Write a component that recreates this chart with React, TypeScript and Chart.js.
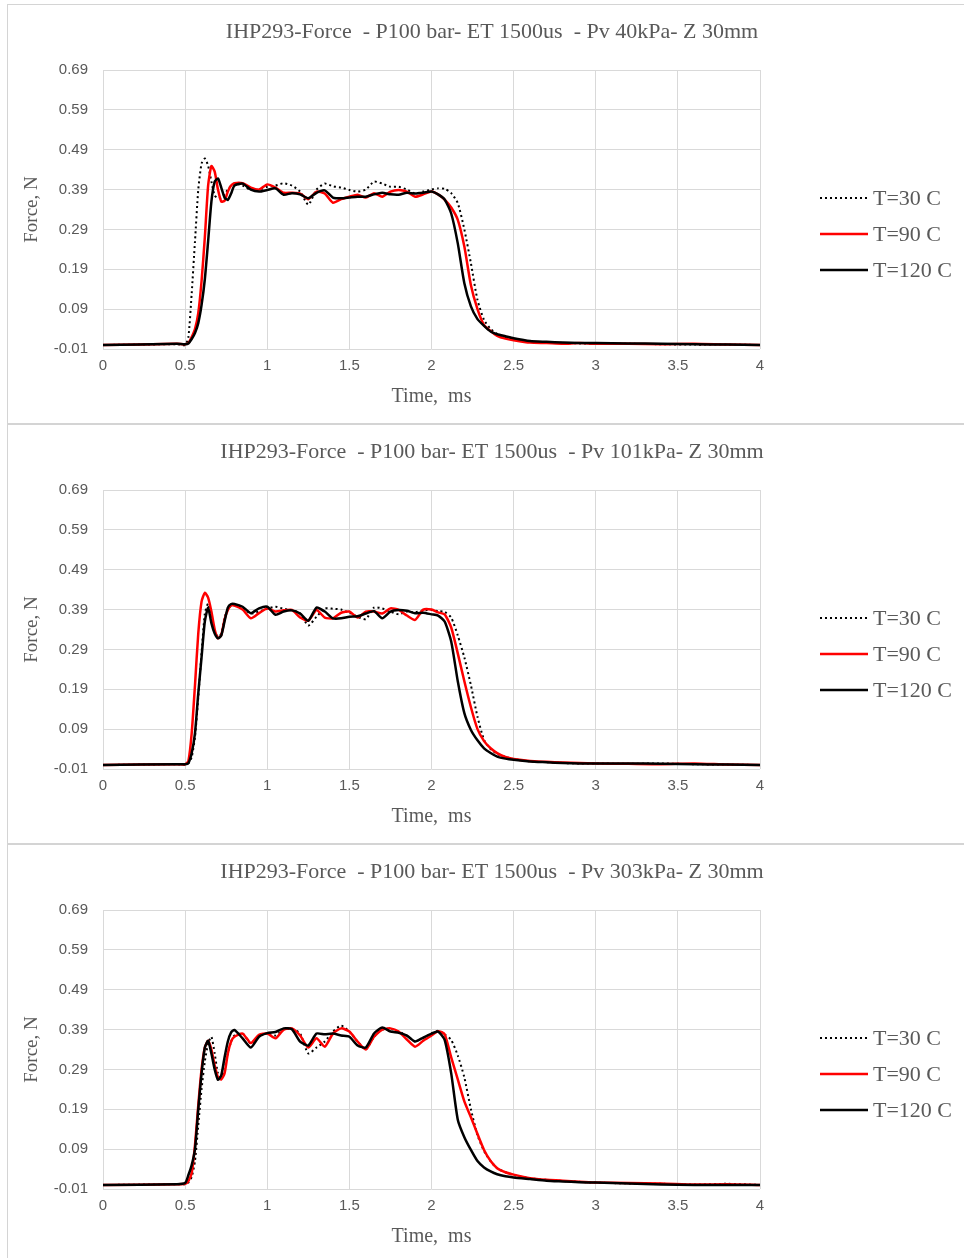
import React, { useEffect, useRef } from 'react';
import { Chart, registerables } from 'chart.js';

Chart.register(...registerables);

// ---------- data ----------
const time = [0, 0.45, 0.5, 0.52, 0.54, 0.56, 0.58, 0.6, 0.62, 0.64, 0.66, 0.68, 0.7, 0.72, 0.74, 0.76, 0.78, 0.8, 0.85, 0.9, 0.95, 1.0, 1.05, 1.1, 1.15, 1.2, 1.25, 1.3, 1.35, 1.4, 1.45, 1.5, 1.55, 1.6, 1.65, 1.7, 1.75, 1.8, 1.85, 1.9, 1.95, 2.0, 2.04, 2.08, 2.12, 2.16, 2.2, 2.24, 2.28, 2.32, 2.36, 2.4, 2.45, 2.5, 2.6, 2.7, 2.8, 2.9, 3.0, 3.2, 3.4, 3.6, 3.8, 4.0];

const seriesLabels = ['T=30 C', 'T=90 C', 'T=120 C'];

const panelTitles = [
  'IHP293-Force  - P100 bar- ET 1500us  - Pv 40kPa- Z 30mm',
  'IHP293-Force  - P100 bar- ET 1500us  - Pv 101kPa- Z 30mm',
  'IHP293-Force  - P100 bar- ET 1500us  - Pv 303kPa- Z 30mm',
];

const xTicks = [0, 0.5, 1, 1.5, 2, 2.5, 3, 3.5, 4];
const yTicks = [-0.01, 0.09, 0.19, 0.29, 0.39, 0.49, 0.59, 0.69];

// Panel 1 (Pv 40kPa)
const p1T30 = [0, 0.002, 0.0, 0.02, 0.13, 0.26, 0.39, 0.455, 0.468, 0.45, 0.41, 0.375, 0.368, 0.37, 0.378, 0.39, 0.4, 0.405,
  0.4, 0.389, 0.39, 0.397, 0.4, 0.406, 0.4, 0.385, 0.352, 0.39, 0.405, 0.398, 0.395, 0.389, 0.385, 0.39, 0.41, 0.405, 0.397, 0.397, 0.39, 0.38, 0.385, 0.39,
  0.393, 0.392, 0.381, 0.356, 0.29, 0.205, 0.113, 0.063, 0.04, 0.028, 0.02, 0.015, 0.008, 0.006, 0.005, 0.004, 0.003, 0.003, 0.002, 0.001, 0.001, 0.0];
const p1T90 = [0, 0.003, 0.002, 0.005, 0.02, 0.04, 0.08, 0.16, 0.27, 0.4, 0.449, 0.435, 0.39, 0.36, 0.362, 0.385, 0.4, 0.406,
  0.406, 0.395, 0.39, 0.403, 0.395, 0.382, 0.382, 0.38, 0.366, 0.385, 0.38, 0.357, 0.366, 0.372, 0.377, 0.37, 0.381, 0.372, 0.385, 0.389, 0.385, 0.372, 0.378, 0.385,
  0.378, 0.365, 0.345, 0.314, 0.247, 0.15, 0.09, 0.05, 0.035, 0.023, 0.016, 0.012, 0.006, 0.005, 0.003, 0.005, 0.003, 0.003, 0.002, 0.003, 0.001, 0.0];
const p1T120 = [0, 0.003, 0.002, 0.004, 0.015, 0.03, 0.055, 0.1, 0.165, 0.26, 0.36, 0.41, 0.418, 0.395, 0.37, 0.364, 0.38, 0.4,
  0.405, 0.39, 0.385, 0.389, 0.393, 0.377, 0.381, 0.378, 0.368, 0.382, 0.388, 0.37, 0.368, 0.37, 0.372, 0.372, 0.378, 0.382, 0.378, 0.377, 0.382, 0.38, 0.382, 0.385,
  0.378, 0.365, 0.33, 0.255, 0.155, 0.097, 0.065, 0.048, 0.034, 0.027, 0.022, 0.017, 0.01, 0.008, 0.006, 0.005, 0.005, 0.004, 0.003, 0.002, 0.001, 0.0];

// Panel 2 (Pv 101kPa)
const p2T30 = [0, 0.002, 0.001, 0.004, 0.02, 0.07, 0.17, 0.28, 0.38, 0.405, 0.37, 0.335, 0.322, 0.33, 0.37, 0.39, 0.4, 0.402,
  0.395, 0.38, 0.385, 0.392, 0.397, 0.392, 0.388, 0.38, 0.35, 0.372, 0.393, 0.392, 0.39, 0.382, 0.372, 0.366, 0.395, 0.393, 0.385, 0.378, 0.385, 0.383, 0.388, 0.389,
  0.386, 0.384, 0.37, 0.325, 0.27, 0.2, 0.121, 0.063, 0.04, 0.028, 0.02, 0.015, 0.009, 0.007, 0.005, 0.004, 0.004, 0.003, 0.004, 0.002, 0.001, 0.0];
const p2T90 = [0, 0.002, 0.002, 0.01, 0.08, 0.2, 0.33, 0.41, 0.432, 0.42, 0.385, 0.34, 0.318, 0.326, 0.365, 0.389, 0.401, 0.4,
  0.39, 0.368, 0.381, 0.393, 0.385, 0.388, 0.389, 0.37, 0.362, 0.389, 0.37, 0.368, 0.382, 0.385, 0.37, 0.385, 0.385, 0.38, 0.393, 0.389, 0.375, 0.364, 0.39, 0.39,
  0.383, 0.378, 0.345, 0.28, 0.21, 0.145, 0.09, 0.06, 0.042, 0.03, 0.02, 0.015, 0.01, 0.008, 0.006, 0.005, 0.004, 0.003, 0.002, 0.004, 0.001, 0.0];
const p2T120 = [0, 0.002, 0.002, 0.005, 0.03, 0.08, 0.18, 0.27, 0.36, 0.395, 0.356, 0.33, 0.318, 0.325, 0.36, 0.395, 0.404, 0.404,
  0.397, 0.381, 0.393, 0.397, 0.377, 0.385, 0.388, 0.38, 0.362, 0.395, 0.385, 0.368, 0.368, 0.372, 0.373, 0.38, 0.386, 0.368, 0.385, 0.389, 0.387, 0.381, 0.382, 0.378,
  0.375, 0.36, 0.31, 0.21, 0.13, 0.088, 0.062, 0.042, 0.03, 0.021, 0.016, 0.013, 0.009, 0.007, 0.005, 0.004, 0.004, 0.004, 0.003, 0.002, 0.001, 0.0];

// Panel 3 (Pv 303kPa)
const p3T30 = [0, 0.002, 0.002, 0.006, 0.02, 0.06, 0.15, 0.24, 0.31, 0.355, 0.372, 0.33, 0.28, 0.27, 0.29, 0.33, 0.36, 0.375,
  0.38, 0.355, 0.375, 0.38, 0.375, 0.39, 0.392, 0.38, 0.33, 0.345, 0.36, 0.385, 0.4, 0.385, 0.36, 0.34, 0.372, 0.39, 0.392, 0.385, 0.375, 0.36, 0.37, 0.38,
  0.387, 0.378, 0.364, 0.325, 0.27, 0.19, 0.125, 0.085, 0.06, 0.042, 0.032, 0.025, 0.017, 0.013, 0.01, 0.008, 0.006, 0.004, 0.003, 0.001, 0.003, 0.0];
const p3T90 = [0, 0.002, 0.003, 0.01, 0.03, 0.1, 0.2, 0.29, 0.345, 0.362, 0.34, 0.3, 0.27, 0.265, 0.28, 0.33, 0.36, 0.372,
  0.38, 0.356, 0.377, 0.38, 0.368, 0.39, 0.393, 0.375, 0.345, 0.368, 0.347, 0.38, 0.393, 0.385, 0.36, 0.34, 0.372, 0.39, 0.393, 0.385, 0.365, 0.347, 0.362, 0.375,
  0.386, 0.378, 0.32, 0.265, 0.21, 0.17, 0.128, 0.088, 0.06, 0.042, 0.032, 0.026, 0.017, 0.013, 0.011, 0.008, 0.006, 0.005, 0.004, 0.001, 0.002, 0.0];
const p3T120 = [0, 0.002, 0.005, 0.025, 0.05, 0.09, 0.19, 0.28, 0.345, 0.362, 0.33, 0.29, 0.264, 0.275, 0.32, 0.36, 0.383, 0.389,
  0.368, 0.345, 0.372, 0.381, 0.384, 0.393, 0.391, 0.36, 0.35, 0.38, 0.378, 0.38, 0.375, 0.372, 0.35, 0.345, 0.38, 0.395, 0.385, 0.382, 0.375, 0.36, 0.37, 0.38,
  0.385, 0.364, 0.28, 0.164, 0.12, 0.088, 0.06, 0.044, 0.034, 0.027, 0.022, 0.019, 0.015, 0.011, 0.009, 0.007, 0.006, 0.004, 0.001, 0.0, 0.0, 0.0];

const panelSeries = [
  [p1T30, p1T90, p1T120],
  [p2T30, p2T90, p2T120],
  [p3T30, p3T90, p3T120],
];

// ---------- styles ----------
const seriesStyles = [
  { color: '#000000', width: 2, dash: [2, 3] },
  { color: '#ff0000', width: 2.5, dash: [] as number[] },
  { color: '#000000', width: 2.5, dash: [] as number[] },
];

const W = 964;
const H = 420;
const TEXT = '#595959';
const GRID = '#d9d9d9';

const overlayPlugin = {
  id: 'overlay',
  afterDraw(chart: any, _args: any, opts: any) {
    const ctx = chart.ctx as CanvasRenderingContext2D;
    ctx.save();
    ctx.fillStyle = TEXT;
    ctx.font = '22px "Liberation Serif"';
    ctx.textAlign = 'center';
    ctx.textBaseline = 'middle';
    ctx.fillText(opts.title, 492, 28);
    // legend
    const ys = [194, 230, 266];
    seriesLabels.forEach((lab, i) => {
      const st = seriesStyles[i];
      ctx.save();
      ctx.strokeStyle = st.color;
      ctx.lineWidth = st.width;
      ctx.setLineDash(st.dash);
      ctx.beginPath();
      ctx.moveTo(820, ys[i]);
      ctx.lineTo(868, ys[i]);
      ctx.stroke();
      ctx.restore();
      ctx.fillStyle = TEXT;
      ctx.font = '22px "Liberation Serif"';
      ctx.textAlign = 'left';
      ctx.textBaseline = 'middle';
      ctx.fillText(lab, 873, ys[i] + 1);
    });
    ctx.restore();
  },
};

function Panel({ index }: { index: number }) {
  const ref = useRef<HTMLCanvasElement>(null);
  useEffect(() => {
    const canvas = ref.current;
    if (!canvas) return;
    const values = panelSeries[index];
    const chart = new Chart(canvas, {
      type: 'line',
      data: {
        datasets: values.map((vals, i) => ({
          label: seriesLabels[i],
          data: time.map((t, k) => ({ x: t, y: vals[k] })),
          borderColor: seriesStyles[i].color,
          borderWidth: seriesStyles[i].width,
          borderDash: seriesStyles[i].dash,
          pointRadius: 0,
          tension: 0.2,
          fill: false,
          order: 3 - i,
        })),
      },
      options: {
        responsive: false,
        animation: false,
        events: [],
        layout: { padding: { top: 66, right: W - 760, left: 0, bottom: 0 } },
        plugins: {
          legend: { display: false },
          title: { display: false },
          tooltip: { enabled: false },
          overlay: { title: panelTitles[index] },
        } as any,
        scales: {
          x: {
            type: 'linear',
            min: 0,
            max: 4,
            afterFit: (s: any) => { s.height = H - 345; },
            afterBuildTicks: (s: any) => { s.ticks = xTicks.map((v) => ({ value: v })); },
            grid: { color: GRID, lineWidth: 1, drawTicks: false },
            border: { display: false },
            ticks: {
              padding: 8,
              color: TEXT,
              font: { family: '"Liberation Sans"', size: 15 },
              callback: (v: any) => String(v),
              maxRotation: 0,
            },
            title: {
              display: true,
              text: 'Time,  ms',
              color: TEXT,
              font: { family: '"Liberation Serif"', size: 20 },
              padding: { top: 0, bottom: 15 },
            },
          },
          y: {
            type: 'linear',
            min: -0.01,
            max: 0.69,
            afterFit: (s: any) => { s.width = 103; },
            afterBuildTicks: (s: any) => { s.ticks = yTicks.map((v) => ({ value: v })); },
            grid: { color: GRID, lineWidth: 1, drawTicks: false },
            border: { display: false },
            ticks: {
              padding: 15,
              color: TEXT,
              font: { family: '"Liberation Sans"', size: 15 },
              callback: (v: any) => Number(v).toFixed(2),
            },
            title: {
              display: true,
              text: 'Force, N',
              color: TEXT,
              font: { family: '"Liberation Serif"', size: 19 },
              padding: { top: 21, bottom: 0 },
            },
          },
        },
      },
      plugins: [overlayPlugin],
    });
    return () => chart.destroy();
  }, [index]);
  const top = 4 + index * H;
  return (
    <>
      <div
        style={{
          position: 'absolute',
          left: 7,
          top,
          width: W + 10,
          height: H,
          boxSizing: 'border-box',
          border: '1px solid #d4d4d4',
          background: '#fff',
        }}
      />
      <canvas
        ref={ref}
        width={W}
        height={H}
        style={{ position: 'absolute', left: 0, top, width: W, height: H }}
      />
    </>
  );
}

export default function App() {
  return (
    <div
      style={{
        position: 'absolute',
        left: 0,
        top: 0,
        width: W,
        height: 1258,
        overflow: 'hidden',
        background: '#fff',
      }}
    >
      <Panel index={0} />
      <Panel index={1} />
      <Panel index={2} />
    </div>
  );
}
